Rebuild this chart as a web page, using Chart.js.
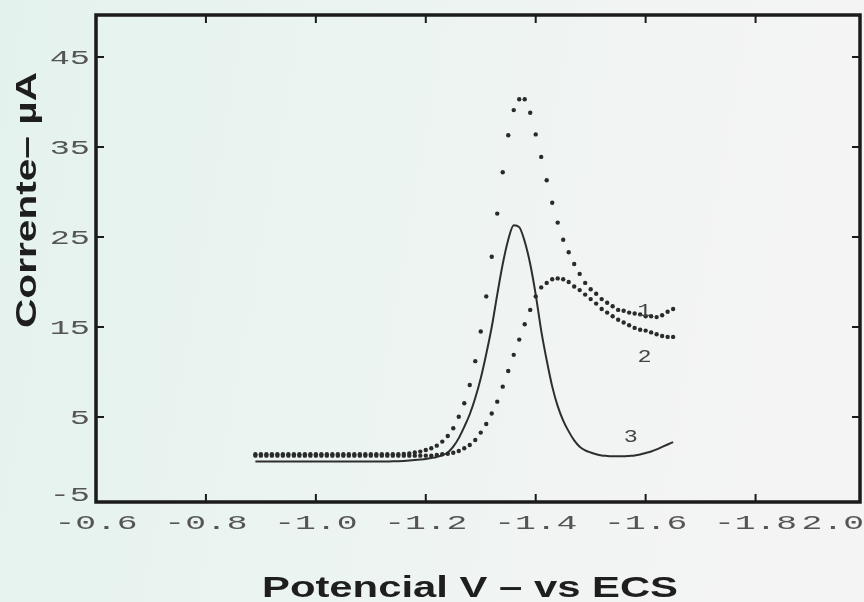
<!DOCTYPE html>
<html lang="pt">
<head>
<meta charset="UTF-8">
<title>Corrente vs Potencial</title>
<script src="https://cdn.jsdelivr.net/npm/chart.js@4.4.0/dist/chart.umd.min.js"></script>
<style>
  html, body { margin: 0; padding: 0; }
  body {
    width: 864px; height: 602px; overflow: hidden;
    background: linear-gradient(100deg, #e4f2ee 0%, #ebf4f1 40%, #f2f4f3 70%, #f4f4f4 100%);
  }
  canvas { display: block; }
</style>
</head>
<body>
<canvas id="chart" width="864" height="602"></canvas>
<script>
// potential (V vs ECS), one sample every 10 mV
const potencial = [
  -0.89, -0.90, -0.91, -0.92, -0.93, -0.94, -0.95, -0.96, -0.97, -0.98, -0.99,
  -1.00, -1.01, -1.02, -1.03, -1.04, -1.05, -1.06, -1.07, -1.08, -1.09,
  -1.10, -1.11, -1.12, -1.13, -1.14, -1.15, -1.16, -1.17, -1.18, -1.19,
  -1.20, -1.21, -1.22, -1.23, -1.24, -1.25, -1.26, -1.27, -1.28, -1.29,
  -1.30, -1.31, -1.32, -1.33, -1.34, -1.35, -1.36, -1.37, -1.38, -1.39,
  -1.40, -1.41, -1.42, -1.43, -1.44, -1.45, -1.46, -1.47, -1.48, -1.49,
  -1.50, -1.51, -1.52, -1.53, -1.54, -1.55, -1.56, -1.57, -1.58, -1.59,
  -1.60, -1.61, -1.62, -1.63, -1.64, -1.65
];

// current (uA) for curves 1, 2 (dotted) and 3 (solid)
const curva1 = [
  0.85, 0.85, 0.85, 0.85, 0.85, 0.85, 0.85, 0.85, 0.85, 0.85, 0.85,
  0.85, 0.85, 0.85, 0.85, 0.85, 0.85, 0.85, 0.85, 0.85, 0.85,
  0.85, 0.85, 0.85, 0.85, 0.85, 0.85, 0.9, 0.95, 1.05, 1.15,
  1.33, 1.52, 1.81, 2.26, 2.89, 3.74, 5.03, 6.52, 8.56, 11.2,
  14.5, 18.4, 22.8, 27.6, 32.2, 36.3, 39.1, 40.3, 40.3, 38.8,
  36.4, 33.9, 31.3, 28.8, 26.6, 24.7, 23.3, 22.0, 20.9, 19.9,
  19.2, 18.7, 18.1, 17.7, 17.3, 16.9, 16.8, 16.6, 16.5, 16.4,
  16.2, 16.2, 16.1, 16.3, 16.7, 17.0
];
const curva2 = [
  0.7, 0.7, 0.7, 0.7, 0.7, 0.7, 0.7, 0.7, 0.7, 0.7, 0.7,
  0.7, 0.7, 0.7, 0.7, 0.7, 0.7, 0.7, 0.7, 0.7, 0.7,
  0.7, 0.7, 0.7, 0.7, 0.7, 0.7, 0.7, 0.7, 0.7, 0.7,
  0.7, 0.7, 0.78, 0.86, 0.92, 1.03, 1.22, 1.52, 1.89, 2.44,
  3.26, 4.22, 5.39, 6.7, 8.37, 10.1, 11.9, 13.6, 15.3, 16.9,
  18.4, 19.4, 19.9, 20.3, 20.4, 20.3, 20.0, 19.5, 19.1, 18.6,
  18.1, 17.6, 17.0, 16.6, 16.2, 15.8, 15.5, 15.2, 14.9, 14.7,
  14.6, 14.4, 14.2, 14.0, 13.9, 13.9
];
const curva3 = [
  0.05, 0.05, 0.05, 0.05, 0.05, 0.05, 0.05, 0.05, 0.05, 0.05, 0.05,
  0.05, 0.05, 0.05, 0.05, 0.05, 0.05, 0.05, 0.05, 0.05, 0.05,
  0.05, 0.05, 0.05, 0.06, 0.07, 0.09, 0.12, 0.16, 0.21, 0.27,
  0.34, 0.44, 0.56, 0.74, 1.05, 1.7, 2.65, 3.9, 5.3, 7.1,
  9.3, 12.0, 15.0, 18.6, 22.0, 24.7, 26.3, 26.1, 24.5, 22.0,
  18.6, 14.6, 11.3, 8.4, 6.2, 4.6, 3.4, 2.4, 1.7, 1.3,
  1.05, 0.85, 0.72, 0.67, 0.64, 0.63, 0.63, 0.67, 0.72, 0.83,
  1.0, 1.17, 1.39, 1.67, 1.94, 2.2
];

const yTicks = [45, 35, 25, 15, 5, -5];
const xTicks = [-0.6, -0.8, -1.0, -1.2, -1.4, -1.6, -1.8, -2.0];
const xTickLabels = ['-0.6', '-0.8', '-1.0', '-1.2', '-1.4', '-1.6', '-1.8', '2.0'];
const curveNames = ['1', '2', '3'];

const pts = arr => potencial.map((v, i) => ({ x: v, y: arr[i] }));

// where the curve numbers sit, in data units
const nameAt = [[-1.598, 16.7], [-1.598, 11.6], [-1.573, 2.8]];

function wideText(ctx, text, px, py, sx, align) {
  ctx.save();
  ctx.translate(px, py);
  ctx.scale(sx, 1);
  ctx.textAlign = align;
  ctx.fillText(text, 0, 0);
  ctx.restore();
}

function fitText(ctx, text, px, py, width, angle) {
  ctx.save();
  ctx.translate(px, py);
  ctx.rotate(angle);
  ctx.scale(width / ctx.measureText(text).width, 1);
  ctx.textAlign = 'center';
  ctx.fillText(text, 0, 0);
  ctx.restore();
}

const frame = {
  id: 'frame',
  afterDatasetsDraw(chart) {
    const { ctx, chartArea: a, scales: { x, y } } = chart;
    ctx.save();
    ctx.strokeStyle = '#1b1b1b';
    ctx.lineWidth = 2;
    ctx.beginPath();
    xTicks.forEach(v => {
      const px = x.getPixelForValue(v);
      if (px <= a.left + 3 || px >= a.right - 3) return;
      ctx.moveTo(px, a.bottom); ctx.lineTo(px, a.bottom - 8);
      ctx.moveTo(px, a.top); ctx.lineTo(px, a.top + 8);
    });
    yTicks.forEach(v => {
      const py = y.getPixelForValue(v);
      if (py <= a.top + 3 || py >= a.bottom - 3) return;
      ctx.moveTo(a.left, py); ctx.lineTo(a.left + 8, py);
      ctx.moveTo(a.right, py); ctx.lineTo(a.right - 8, py);
    });
    ctx.stroke();
    ctx.lineWidth = 3.5;
    ctx.strokeRect(a.left, a.top, a.right - a.left, a.bottom - a.top);

    // tick labels
    ctx.fillStyle = '#555';
    ctx.font = '21px "Liberation Mono"';
    ctx.textBaseline = 'alphabetic';
    xTicks.forEach((v, i) => {
      const last = i === xTicks.length - 1;
      const px = last ? chart.width : x.getPixelForValue(v);
      wideText(ctx, xTickLabels[i], px, a.bottom + 27, 1.65, last ? 'right' : 'center');
    });
    yTicks.forEach(v => {
      const py = Math.min(y.getPixelForValue(v) + 7, a.bottom - 1);
      wideText(ctx, String(v), a.left - 6, py, 1.6, 'right');
    });

    // curve numbers
    ctx.fillStyle = '#444';
    ctx.font = '18px "Liberation Mono"';
    ctx.textBaseline = 'middle';
    curveNames.forEach((t, i) => {
      wideText(ctx, t, x.getPixelForValue(nameAt[i][0]), y.getPixelForValue(nameAt[i][1]), 1.3, 'center');
    });

    // axis titles
    ctx.fillStyle = '#1e1e1e';
    ctx.font = 'bold 30px "Liberation Sans", Arial, sans-serif';
    ctx.textBaseline = 'alphabetic';
    fitText(ctx, 'Potencial V \u2013 vs ECS', 470, 597, 416, 0);
    fitText(ctx, 'Corrente\u2013 \u00b5A', 36, 200, 256, -Math.PI / 2);
    ctx.restore();
  }
};

new Chart(document.getElementById('chart'), {
  type: 'scatter',
  data: {
    datasets: [
      { label: '1', data: pts(curva1), showLine: false, pointRadius: 2.2,
        pointBackgroundColor: '#2a2a2a', pointBorderWidth: 0 },
      { label: '2', data: pts(curva2), showLine: false, pointRadius: 2.2,
        pointBackgroundColor: '#2a2a2a', pointBorderWidth: 0 },
      { label: '3', data: pts(curva3), showLine: true, pointRadius: 0,
        borderColor: '#2e2e2e', borderWidth: 2, cubicInterpolationMode: 'monotone' }
    ]
  },
  options: {
    responsive: false,
    animation: false,
    devicePixelRatio: 1,
    events: [],
    layout: { padding: { left: 96, right: 3, top: 15, bottom: 100 } },
    plugins: { legend: { display: false }, tooltip: { enabled: false } },
    scales: {
      x: { type: 'linear', min: -1.99, max: -0.6, reverse: true, display: false },
      y: { type: 'linear', min: -4.45, max: 49.67, display: false }
    }
  },
  plugins: [frame]
});
</script>
</body>
</html>
